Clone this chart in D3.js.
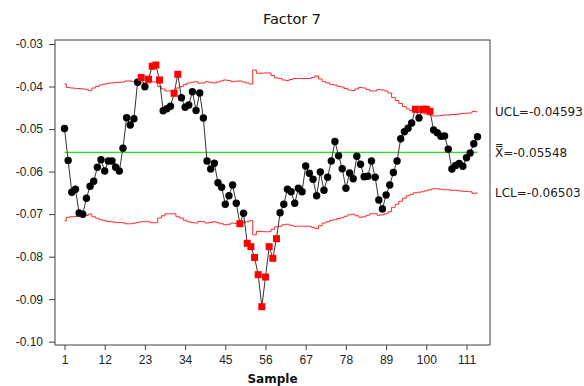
<!DOCTYPE html>
<html>
<head>
<meta charset="utf-8">
<script src="https://cdn.jsdelivr.net/npm/d3@7"></script>
<style>
    body { margin: 0; background: #fff; }
    svg { font-family: "DejaVu Sans", sans-serif; }
    .axis path, .axis line { stroke: #404040; }
    .axis text { fill: #222; font-size: 12px; }
</style>
</head>
<body>
<div id="chart-area"></div>
<script>
const chartTitle = "Factor 7";
const xLabel = "Sample";

const centerValue = -0.05548;
const xTicks = [1, 12, 23, 34, 45, 56, 67, 78, 89, 100, 111];
const yTicks = [-0.10, -0.09, -0.08, -0.07, -0.06, -0.05, -0.04, -0.03];

// subgroup means, one per sample
const factorValues = [
    -0.04987, -0.05739, -0.06487, -0.06416, -0.06974, -0.07004, -0.06626, -0.06346, -0.06228, -0.05899,
    -0.05720, -0.05986, -0.05751, -0.05751, -0.05899, -0.05986, -0.05452, -0.04733, -0.04905, -0.04756,
    -0.03901, -0.03788, -0.04004, -0.03828, -0.03524, -0.03494, -0.03846, -0.04568, -0.04523, -0.04462,
    -0.04159, -0.03712, -0.04263, -0.04488, -0.04434, -0.04124, -0.04564, -0.04152, -0.04740, -0.05751,
    -0.05939, -0.05805, -0.06261, -0.06369, -0.06769, -0.06567, -0.06315, -0.06746, -0.07225, -0.06981,
    -0.07686, -0.07766, -0.08020, -0.08424, -0.09177, -0.08479, -0.07766, -0.08039, -0.07578, -0.06967,
    -0.06767, -0.06416, -0.06475, -0.06746, -0.06393, -0.06473, -0.05869, -0.06040, -0.06181, -0.06569,
    -0.06010, -0.06440, -0.06132, -0.05751, -0.05293, -0.05627, -0.05932, -0.06393, -0.06033, -0.06167,
    -0.05641, -0.05829, -0.06120, -0.06111, -0.05751, -0.06132, -0.06668, -0.06880, -0.06550, -0.06315,
    -0.06021, -0.05751, -0.05227, -0.05062, -0.04982, -0.04858, -0.04533, -0.04740, -0.04533, -0.04533,
    -0.04582, -0.05022, -0.05086, -0.05170, -0.05163, -0.05474, -0.05939, -0.05857, -0.05810, -0.05876,
    -0.05673, -0.05563, -0.05344, -0.05180
];

// 3-sigma half width of the limits, changes with subgroup size
const limitSpread = [
    0.01608, 0.01526, 0.01514, 0.01507, 0.01502, 0.01491, 0.01484, 0.01451, 0.01514, 0.01550,
    0.01585, 0.01608, 0.01625, 0.01632, 0.01644, 0.01648, 0.01655, 0.01679, 0.01679, 0.01667,
    0.01648, 0.01632, 0.01632, 0.01632, 0.01655, 0.01655, 0.01545, 0.01491, 0.01444, 0.01444,
    0.01444, 0.01514, 0.01545, 0.01597, 0.01632, 0.01648, 0.01662, 0.01625, 0.01632, 0.01662,
    0.01648, 0.01632, 0.01655, 0.01679, 0.01702, 0.01691, 0.01662, 0.01672, 0.01679, 0.01655,
    0.01632, 0.01608, 0.01937, 0.01860, 0.01860, 0.01867, 0.01867, 0.01808, 0.01749, 0.01738,
    0.01702, 0.01691, 0.01714, 0.01738, 0.01738, 0.01738, 0.01738, 0.01738, 0.01761, 0.01796,
    0.01726, 0.01662, 0.01632, 0.01601, 0.01585, 0.01554, 0.01538, 0.01502, 0.01467, 0.01455,
    0.01491, 0.01526, 0.01514, 0.01479, 0.01444, 0.01444, 0.01479, 0.01467, 0.01444, 0.01397,
    0.01291, 0.01220, 0.01150, 0.01079, 0.01020, 0.00985, 0.00950, 0.00938, 0.00926, 0.00903,
    0.00879, 0.00856, 0.00856, 0.00868, 0.00879, 0.00879, 0.00891, 0.00891, 0.00903, 0.00915,
    0.00919, 0.00926, 0.00962, 0.00955
];

// samples flagged by test 1 (drawn as red squares)
const flaggedSamples = [22, 24, 25, 26, 27, 31, 32, 49, 51, 52, 53, 54, 55, 56, 57, 58, 59, 97, 99, 100, 101];

const limitLabels = ["UCL=-0.04593", "X\u033F=-0.05548", "LCL=-0.06503"];

const margin = { left: 55, right: 94, top: 40, bottom: 41 };
const chartSize = { width: 584, height: 386 };
const width = chartSize.width - (margin.left + margin.right);
const height = chartSize.height - (margin.top + margin.bottom);

const main = () => {
    const samples = factorValues.map((v, i) => ({
        sample: i + 1,
        value: v,
        ucl: centerValue + limitSpread[i],
        lcl: centerValue - limitSpread[i],
        flagged: flaggedSamples.includes(i + 1),
    }));

    const svg = d3.select("#chart-area")
        .append("svg")
        .attr("width", chartSize.width)
        .attr("height", chartSize.height);

    svg.append("text")
        .text(chartTitle)
        .attr("x", 292)
        .attr("y", 24)
        .attr("text-anchor", "middle")
        .attr("font-size", "14.5px")
        .attr("fill", "#111");

    const g = svg.append("g")
        .attr("transform", `translate(${margin.left}, ${margin.top})`);

    const x = d3.scaleLinear().domain([1, 111]).range([9.5, 411.5]);
    const y = d3.scaleLinear().domain([-0.10, -0.03]).range([301.7, 4]);

    const xAxis = d3.axisBottom(x).tickValues(xTicks).tickSize(5).tickSizeOuter(0);
    g.append("g")
        .attr("class", "axis x-axis")
        .attr("transform", `translate(0, ${height})`)
        .call(xAxis)
        .call(a => a.select(".domain").remove())
        .selectAll("text").attr("dy", "0.9em");

    const yAxis = d3.axisLeft(y).tickValues(yTicks).tickSize(6).tickSizeOuter(0)
        .tickFormat(d => d.toFixed(2));
    g.append("g")
        .attr("class", "axis y-axis")
        .call(yAxis)
        .call(a => a.select(".domain").remove())
        .selectAll("text").attr("x", -12);

    g.append("rect")
        .attr("width", width)
        .attr("height", height)
        .attr("fill", "none")
        .attr("stroke", "#404040");

    g.append("text")
        .text(xLabel)
        .attr("x", width / 2)
        .attr("y", height + 38)
        .attr("text-anchor", "middle")
        .attr("font-weight", "bold")
        .attr("font-size", "12px")
        .attr("fill", "#111");

    // centre line
    g.append("line")
        .attr("x1", x(1))
        .attr("x2", x(samples.length))
        .attr("y1", y(centerValue))
        .attr("y2", y(centerValue))
        .attr("stroke", "#22e022")
        .attr("stroke-width", 1.2);

    const stepLine = key => d3.line()
        .x(d => x(d.sample))
        .y(d => y(d[key]))
        .curve(d3.curveStep);

    ["ucl", "lcl"].forEach(key => {
        g.append("path")
            .attr("d", stepLine(key)(samples))
            .attr("fill", "none")
            .attr("stroke", "#ff2a2a")
            .attr("stroke-width", 1);
    });

    const line = d3.line()
        .x(d => x(d.sample))
        .y(d => y(d.value));

    g.append("path")
        .attr("d", line(samples))
        .attr("fill", "none")
        .attr("stroke", "#333")
        .attr("stroke-width", 1);

    g.selectAll(".pt")
        .data(samples.filter(d => !d.flagged))
        .enter()
        .append("circle")
        .attr("class", "pt")
        .attr("cx", d => x(d.sample))
        .attr("cy", d => y(d.value))
        .attr("r", 3.7)
        .attr("fill", "#000");

    g.selectAll(".flag")
        .data(samples.filter(d => d.flagged))
        .enter()
        .append("rect")
        .attr("class", "flag")
        .attr("x", d => x(d.sample) - 3.5)
        .attr("y", d => y(d.value) - 3.5)
        .attr("width", 7)
        .attr("height", 7)
        .attr("fill", "#ff0000");

    const last = samples[samples.length - 1];
    const labelValues = [last.ucl, centerValue, last.lcl];
    g.selectAll(".limit-label")
        .data(limitLabels)
        .enter()
        .append("text")
        .attr("class", "limit-label")
        .text(d => d)
        .attr("x", width + 5)
        .attr("y", (d, i) => y(labelValues[i]))
        .attr("dy", "0.36em")
        .attr("font-size", "12px")
        .attr("fill", "#222");
};

window.onload = main;
</script>
</body>
</html>
